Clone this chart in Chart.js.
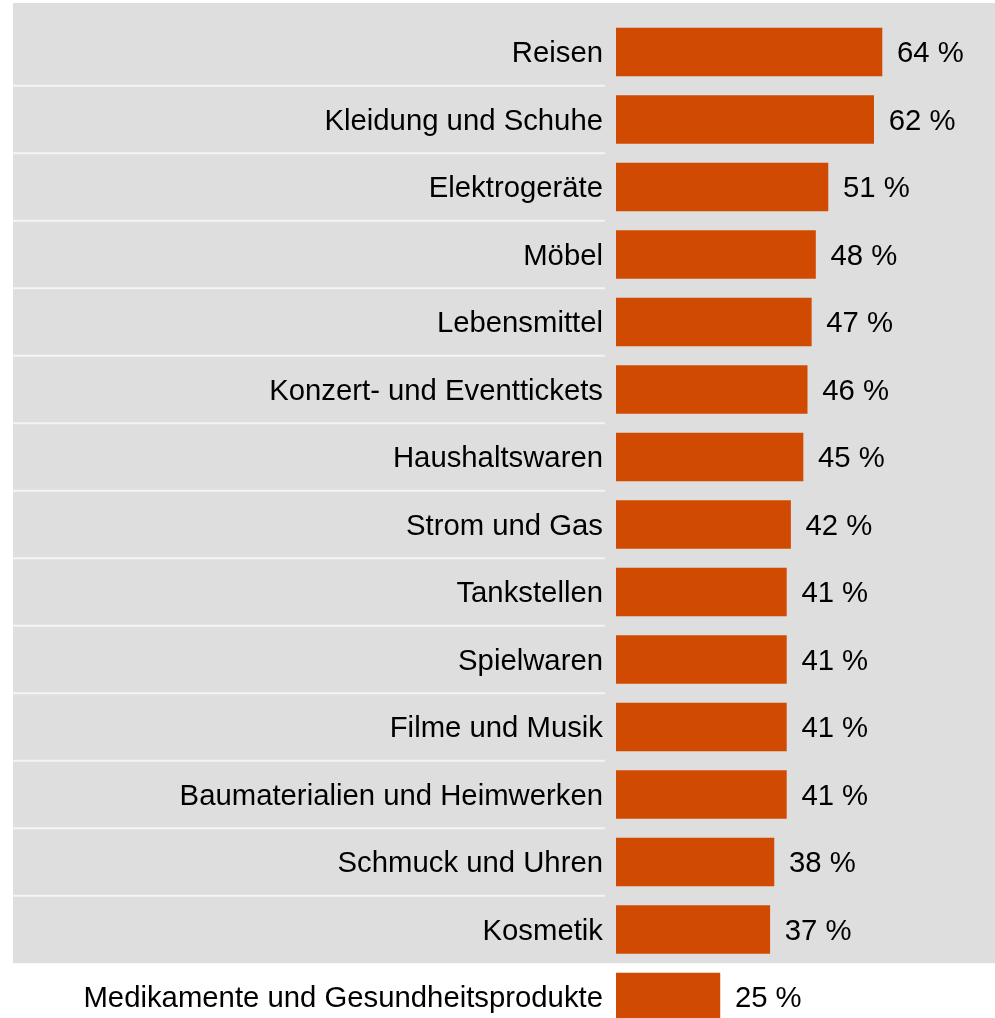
<!DOCTYPE html>
<html>
<head>
<meta charset="utf-8">
<script src="https://cdn.jsdelivr.net/npm/chart.js@4"></script>
<style>
  html, body { margin: 0; padding: 0; background: #fff; overflow: hidden; }
  #wrap { position: relative; width: 995px; height: 1040px; }
</style>
</head>
<body>
<div id="wrap"><canvas id="chart" width="995" height="1040"></canvas></div>
<script>
const categories = [
  "Reisen",
  "Kleidung und Schuhe",
  "Elektrogeräte",
  "Möbel",
  "Lebensmittel",
  "Konzert- und Eventtickets",
  "Haushaltswaren",
  "Strom und Gas",
  "Tankstellen",
  "Spielwaren",
  "Filme und Musik",
  "Baumaterialien und Heimwerken",
  "Schmuck und Uhren",
  "Kosmetik",
  "Medikamente und Gesundheitsprodukte"
];
const values = [64, 62, 51, 48, 47, 46, 45, 42, 41, 41, 41, 41, 38, 37, 25];

const FONT = "'Liberation Sans', Arial, sans-serif";

// gray panel behind all rows except the last one, white separators in label area
const panelPlugin = {
  id: "panel",
  beforeDraw(chart) {
    const ctx = chart.ctx;
    const y = chart.scales.y;
    const step = y.getPixelForValue(1) - y.getPixelForValue(0);
    const bottom = y.getPixelForValue(categories.length - 2) + step / 2;
    ctx.save();
    ctx.fillStyle = "#dedede";
    ctx.fillRect(13, 3, 995 - 13, bottom - 3);
    ctx.strokeStyle = "#f4f4f4";
    ctx.lineWidth = 2;
    for (let i = 0; i < categories.length - 2; i++) {
      const ly = y.getPixelForValue(i) + step / 2;
      ctx.beginPath();
      ctx.moveTo(13, ly);
      ctx.lineTo(605, ly);
      ctx.stroke();
    }
    ctx.restore();
  },
  afterDatasetsDraw(chart) {
    const ctx = chart.ctx;
    const meta = chart.getDatasetMeta(0);
    ctx.save();
    ctx.font = "29.3px " + FONT;
    ctx.fillStyle = "#000";
    ctx.textAlign = "left";
    ctx.textBaseline = "middle";
    meta.data.forEach((bar, i) => {
      ctx.fillText(values[i] + " %", bar.x + 15, bar.y + 2);
    });
    ctx.restore();
  }
};

new Chart(document.getElementById("chart"), {
  type: "bar",
  data: {
    labels: categories,
    datasets: [
      {
        data: values,
        backgroundColor: "#d04a02",
        borderWidth: 0,
        barThickness: 48
      }
    ]
  },
  options: {
    indexAxis: "y",
    responsive: false,
    animation: false,
    events: [],
    layout: { padding: { top: 18.25, bottom: 9.25, left: 0, right: 0 } },
    plugins: {
      legend: { display: false },
      tooltip: { enabled: false }
    },
    scales: {
      x: {
        display: false,
        min: 0,
        max: 91.2
      },
      y: {
        afterFit(scale) {
          scale.width = 616;
          scale.paddingTop = 0;
          scale.paddingBottom = 0;
        },
        grid: { display: false, drawTicks: false },
        border: { display: false },
        ticks: {
          padding: 13,
          labelOffset: 2,
          color: "#000",
          font: { family: FONT, size: 29.3 }
        }
      }
    }
  },
  plugins: [panelPlugin]
});
</script>
</body>
</html>
